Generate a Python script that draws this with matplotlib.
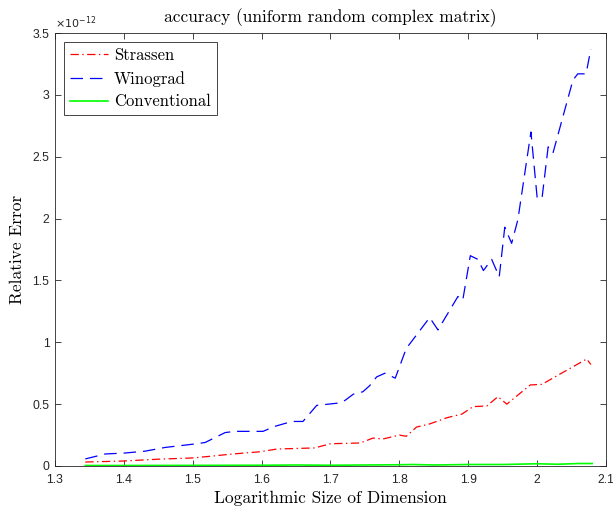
import matplotlib
matplotlib.use('Agg')
import matplotlib.pyplot as plt
from matplotlib.ticker import FuncFormatter

# values, in units of 1e-12
x_strassen = [1.344, 1.399, 1.45, 1.50, 1.528, 1.558, 1.598, 1.622, 1.677, 1.70,
              1.743, 1.762, 1.776, 1.80, 1.81, 1.825, 1.844, 1.869, 1.891, 1.907,
              1.927, 1.943, 1.956, 1.99, 2.007, 2.029, 2.045, 2.072, 2.078]
strassen = [0.032, 0.04, 0.055, 0.065, 0.08, 0.097, 0.115, 0.137, 0.146, 0.18,
            0.186, 0.226, 0.218, 0.25, 0.24, 0.315, 0.34, 0.39, 0.42, 0.48,
            0.485, 0.56, 0.50, 0.655, 0.66, 0.73, 0.78, 0.865, 0.82]

x_winograd = [1.344, 1.373, 1.402, 1.431, 1.460, 1.506, 1.518, 1.547, 1.561, 1.602,
              1.619, 1.644, 1.660, 1.680, 1.714, 1.721, 1.733, 1.747, 1.757, 1.767,
              1.779, 1.794, 1.81, 1.825, 1.844, 1.856, 1.885, 1.892, 1.903, 1.914,
              1.922, 1.934, 1.945, 1.953, 1.963, 1.972, 1.991, 2.000, 2.007, 2.016,
              2.023, 2.052, 2.059, 2.071, 2.078]
winograd = [0.057, 0.097, 0.105, 0.12, 0.15, 0.18, 0.19, 0.27, 0.28, 0.28,
            0.32, 0.36, 0.36, 0.49, 0.51, 0.53, 0.58, 0.60, 0.65, 0.72,
            0.75, 0.71, 0.95, 1.06, 1.20, 1.10, 1.37, 1.34, 1.70, 1.67,
            1.58, 1.67, 1.53, 1.93, 1.80, 1.99, 2.70, 2.17, 2.16, 2.58,
            2.53, 3.12, 3.17, 3.17, 3.37]

x_conv = [1.344, 1.4, 1.5, 1.6, 1.65, 1.7, 1.75, 1.8, 1.82, 1.85,
          1.9, 1.95, 2.0, 2.03, 2.06, 2.08]
conventional = [0.004, 0.004, 0.005, 0.006, 0.008, 0.006, 0.008, 0.01, 0.012, 0.008,
                0.012, 0.012, 0.018, 0.014, 0.02, 0.02]

xticks = [1.3, 1.4, 1.5, 1.6, 1.7, 1.8, 1.9, 2.0, 2.1]
yticks = [0, 0.5, 1, 1.5, 2, 2.5, 3, 3.5]

plt.rcParams['lines.scale_dashes'] = False
serif = 'cmr10'
sans = 'Liberation Sans'
axcol = '0.15'

fig = plt.figure(figsize=(6.13, 5.08), dpi=100)
ax = fig.add_axes([0.0897, 0.0827, 0.8989, 0.8523])

ax.plot(x_strassen, strassen, color='red', lw=0.9, dashes=(6, 2.5, 1, 2.5), label='Strassen')
ax.plot(x_winograd, winograd, color='blue', lw=0.9, dashes=(9, 5), label='Winograd')
ax.plot(x_conv, conventional, color=(0, 1, 0), lw=1.2, label='Conventional')

ax.set_xlim(1.3, 2.1)
ax.set_ylim(0, 3.5)
ax.set_xticks(xticks)
ax.set_yticks(yticks)
ax.xaxis.set_major_formatter(FuncFormatter(lambda v, p: '%g' % round(v, 3)))
ax.yaxis.set_major_formatter(FuncFormatter(lambda v, p: '%g' % v))
ax.tick_params(direction='in', length=4, width=0.6, top=True, right=True,
               colors=axcol, labelsize=8.8, labelcolor='0.15')
ax.tick_params(axis='x', pad=6)
ax.tick_params(axis='y', pad=4)
for lab in ax.get_xticklabels() + ax.get_yticklabels():
    lab.set_family(sans)
for sp in ax.spines.values():
    sp.set_color(axcol)
    sp.set_linewidth(0.6)

ax.text(0.0, 1.005, r'$\times10^{-12}$', transform=ax.transAxes, fontsize=8,
        family=sans, color='0.15', ha='left', va='bottom')

ax.set_title('accuracy (uniform random complex matrix)', family=serif, fontsize=12.5, pad=8)
ax.set_xlabel('Logarithmic Size of Dimension', family=serif, fontsize=12.5, labelpad=3)
ax.set_ylabel('Relative Error', family=serif, fontsize=12.5, labelpad=5)

leg = ax.legend(loc='upper left', prop={'family': serif, 'size': 12}, fancybox=False,
                framealpha=1, edgecolor=axcol, borderaxespad=0.55, handlelength=2.3,
                labelspacing=0.45, borderpad=0.35, handletextpad=0.35)
leg.get_frame().set_linewidth(0.6)

fig.savefig('out.png', dpi=100)
